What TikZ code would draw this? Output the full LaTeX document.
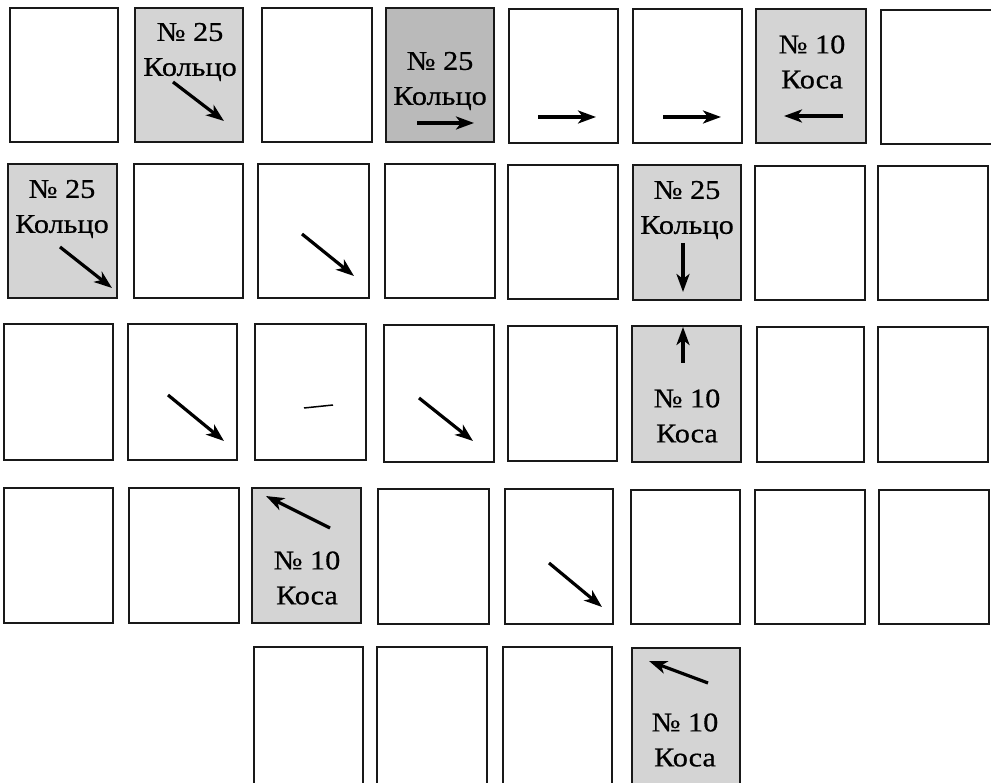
\documentclass[tikz,border=0pt]{standalone}
\usepackage{fontspec}
\setmainfont{Liberation Serif}
\newfontfamily\cardfont[FakeStretch=1.12,FakeBold=0.6]{Liberation Serif}
\usetikzlibrary{arrows.meta}
\tikzset{
  card/.style={draw=black!90, line width=1.8pt, fill=white},
  graycard/.style={card, fill=black!17},
  darkcard/.style={card, fill=black!27},
  arr/.style={line width=3.2pt, -{Stealth[length=18pt,width=13pt,inset=5pt]}},
  lbl/.style={font=\cardfont\fontsize{27}{35}\selectfont, align=center, inner sep=0pt},
}
\newcommand\crd[6][card]{%
  \node[#1, anchor=north west, inner sep=0pt, outer sep=0pt,
        minimum width={(#5-#3)*1pt}, minimum height={(#6-#4)*1pt}] (#2) at (#3,#4) {};}
\begin{document}
\begin{tikzpicture}[x=1pt,y=-1pt]
\useasboundingbox (0,0) rectangle (991,783);
\clip (0,0) rectangle (991,783);
% row 1
\crd{a1}{10}{8}{118}{142}
\crd[graycard]{a2}{135}{8}{243}{142}
\crd{a3}{262}{8}{372}{142}
\crd[darkcard]{a4}{386}{8}{494}{142}
\crd{a5}{509}{9}{618}{143}
\crd{a6}{633}{9}{742}{143}
\crd[graycard]{a7}{756}{9}{866}{143}
\crd{a8}{881}{10}{992}{144}
% row 2
\crd[graycard]{b1}{8}{164}{117}{298}
\crd{b2}{134}{164}{243}{298}
\crd{b3}{258}{164}{369}{298}
\crd{b4}{385}{164}{495}{298}
\crd{b5}{508}{165}{618}{299}
\crd[graycard]{b6}{633}{165}{741}{300}
\crd{b7}{755}{166}{865}{300}
\crd{b8}{878}{166}{988}{300}
% row 3
\crd{c1}{4}{324}{113}{460}
\crd{c2}{128}{324}{237}{460}
\crd{c3}{255}{324}{366}{460}
\crd{c4}{384}{325}{494}{462}
\crd{c5}{508}{326}{617}{461}
\crd[graycard]{c6}{632}{326}{741}{462}
\crd{c7}{757}{327}{864}{462}
\crd{c8}{878}{327}{988}{462}
% row 4
\crd{d1}{4}{488}{113}{623}
\crd{d2}{129}{488}{239}{623}
\crd[graycard]{d3}{252}{488}{361}{623}
\crd{d4}{378}{489}{489}{624}
\crd{d5}{505}{489}{613}{624}
\crd{d6}{631}{490}{740}{624}
\crd{d7}{755}{490}{865}{624}
\crd{d8}{879}{490}{989}{624}
% row 5
\crd{e1}{254}{647}{363}{800}
\crd{e2}{377}{647}{487}{800}
\crd{e3}{503}{647}{612}{800}
\crd[graycard]{e4}{632}{648}{740}{800}
% labels
\node[lbl] (ta2) at (190,52) {№ 25\\Кольцо};
\node[lbl] (ta4) at (440,81) {№ 25\\Кольцо};
\node[lbl] (ta7) at (812,62) {№ 10\\Коса};
\node[lbl] (tb1) at (62,209) {№ 25\\Кольцо};
\node[lbl] (tb6) at (687,210) {№ 25\\Кольцо};
\node[lbl] (tc6) at (687,416) {№ 10\\Коса};
\node[lbl] (td3) at (307,578) {№ 10\\Коса};
\node[lbl] (te4) at (685,740) {№ 10\\Коса};
% arrows
\draw[arr] (173,82) -- (224,121);
\draw[arr] (417,123) -- (474,123);
\draw[arr] (538,117) -- (596,117);
\draw[arr] (663,117) -- (721,117);
\draw[arr] (843,116) -- (784,116);
\draw[arr] (60,247) -- (112,288);
\draw[arr] (302,234) -- (354,276);
\draw[arr] (683,243) -- (683,292);
\draw[arr] (168,395) -- (224,441);
\draw[line width=1.5pt] (304,408) -- (333,405);
\draw[arr] (419,398) -- (473,441);
\draw[arr] (683,363) -- (683,327);
\draw[arr] (330,528) -- (266,496);
\draw[arr] (549,563) -- (602,607);
\draw[arr] (708,683) -- (649,661);
\end{tikzpicture}
\end{document}
